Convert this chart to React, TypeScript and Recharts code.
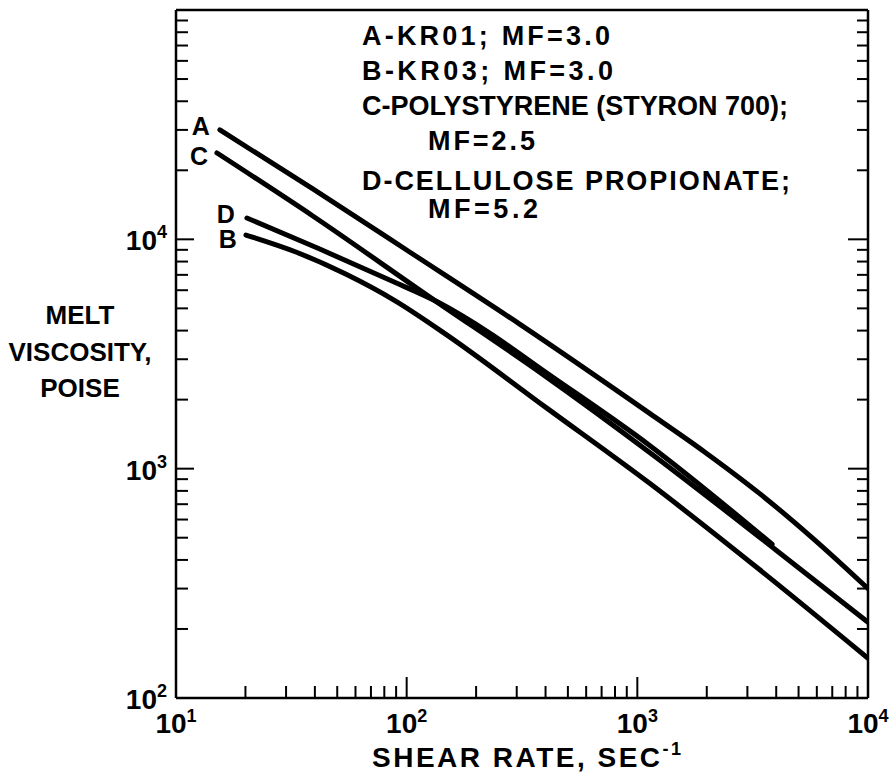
import React from 'react';
import { LineChart, Line, XAxis, YAxis, ReferenceLine } from 'recharts';

// shear rate (1/sec) and melt viscosity (poise)
const shearA = [15.5, 39.2, 103, 309, 1127, 1950, 3373, 5834, 10000];
const viscA = [30000, 16580, 8805, 4267, 1746, 1186, 782, 492, 300];

const shearB = [20.1, 33.1, 54.4, 89.6, 147.5, 408, 1127, 3373, 10000];
const viscB = [10440, 8805, 7058, 5381, 3863, 1827, 865, 364, 149];

const shearC = [15.05, 39.2, 126, 388, 1127, 4000, 10000];
const viscC = [23800, 12640, 5600, 2584, 1180, 441, 214];

const shearD = [20.3, 42, 84.4, 139, 229, 388, 1127, 3840];
const viscD = [12390, 9072, 6644, 5274, 3902, 2692, 1266, 468];

const xTicks = [
  10, 20, 30, 40, 50, 60, 70, 80, 90,
  100, 200, 300, 400, 500, 600, 700, 800, 900,
  1000, 2000, 3000, 4000, 5000, 6000, 7000, 8000, 9000, 10000,
];
const yTicks = [
  100, 200, 300, 400, 500, 600, 700, 800, 900,
  1000, 2000, 3000, 4000, 5000, 6000, 7000, 8000, 9000,
  10000, 20000, 30000, 40000, 50000, 60000, 70000, 80000, 90000, 100000,
];
// decades that carry a printed label
const yLabelled = [100, 1000, 10000];

const legendLines = [
  { text: 'A-KR01; MF=3.0', x: 362, y: 45, w: 248 },
  { text: 'B-KR03; MF=3.0', x: 362, y: 80, w: 251 },
  { text: 'C-POLYSTYRENE (STYRON 700);', x: 362, y: 115, w: 426 },
  { text: 'MF=2.5', x: 428, y: 150, w: 107 },
  { text: 'D-CELLULOSE PROPIONATE;', x: 362, y: 190, w: 428 },
  { text: 'MF=5.2', x: 428, y: 218, w: 110 },
];

const yTitle = ['MELT', 'VISCOSITY,', 'POISE'];

const FONT = '"Liberation Sans", Arial, sans-serif';
const INK = '#000';
const PLOT_W = 692;

const toPoints = (xs: number[], ys: number[]) => xs.map((x, i) => ({ x, y: ys[i] }));

const decade = (v: number) => Math.round(Math.log10(v));
const isDecade = (v: number) => Math.abs(Math.log10(v) - decade(v)) < 1e-6;

// ticks point into the plot; labels only at powers of ten
const XTick = (props: any) => {
  const { x, y, payload } = props;
  const major = isDecade(payload.value);
  return (
    <g>
      <line x1={x} x2={x} y1={y} y2={y - (major ? 21 : 12)} stroke={INK} strokeWidth={2} />
      {major && (
        <text x={x} y={y + 35} textAnchor="middle" fontFamily={FONT} fontWeight="bold" fontSize={28} fill={INK}>
          <tspan>10</tspan>
          <tspan dy={-11} fontSize={18}>{decade(payload.value)}</tspan>
        </text>
      )}
    </g>
  );
};

// left ticks plus the mirrored ticks on the right frame
const YTick = (props: any) => {
  const { x, y, payload } = props;
  const major = isDecade(payload.value);
  const right = x + PLOT_W;
  return (
    <g>
      <line x1={x} x2={x + (major ? 18 : 12)} y1={y} y2={y} stroke={INK} strokeWidth={2} />
      <line x1={right} x2={right - (major ? 20 : 11)} y1={y} y2={y} stroke={INK} strokeWidth={2} />
      {yLabelled.includes(payload.value) && (
        <text x={x - 9} y={y + 11} textAnchor="end" fontFamily={FONT} fontWeight="bold" fontSize={28} fill={INK}>
          <tspan>10</tspan>
          <tspan dy={-12} fontSize={18}>{decade(payload.value)}</tspan>
        </text>
      )}
    </g>
  );
};

const curveLabel = (name: string, dx: number, dy: number) => (p: any) =>
  p.index === 0 ? (
    <text x={p.x + dx} y={p.y + dy} textAnchor="end" fontFamily={FONT} fontWeight="bold" fontSize={25} fill={INK}>
      {name}
    </text>
  ) : null;

const curves = [
  { key: 'A', data: toPoints(shearA, viscA), dx: -10, dy: 5 },
  { key: 'C', data: toPoints(shearC, viscC), dx: -9, dy: 12 },
  { key: 'D', data: toPoints(shearD, viscD), dx: -12, dy: 5 },
  { key: 'B', data: toPoints(shearB, viscB), dx: -9, dy: 13 },
];

export default function App() {
  return (
    <div style={{ position: 'absolute', left: 0, top: 0, width: 893, height: 773, background: '#fff' }}>
      <LineChart width={893} height={773} margin={{ top: 10, right: 25, bottom: 0, left: 0 }}>
        <XAxis
          type="number"
          dataKey="x"
          scale="log"
          domain={[10, 10000]}
          ticks={xTicks}
          interval={0}
          allowDataOverflow
          height={75}
          tickSize={0}
          tickMargin={0}
          tickLine={false}
          axisLine={{ stroke: INK, strokeWidth: 2.5 }}
          tick={XTick}
        />
        <YAxis
          type="number"
          dataKey="y"
          scale="log"
          domain={[100, 100000]}
          ticks={yTicks}
          interval={0}
          allowDataOverflow
          width={176}
          tickSize={0}
          tickMargin={0}
          tickLine={false}
          axisLine={{ stroke: INK, strokeWidth: 2.5 }}
          tick={YTick}
        />
        <ReferenceLine y={100000} stroke={INK} strokeWidth={2.5} />
        <ReferenceLine x={10000} stroke={INK} strokeWidth={2.5} />
        {curves.map((c) => (
          <Line
            key={c.key}
            data={c.data}
            dataKey="y"
            type="monotone"
            stroke={INK}
            strokeWidth={5}
            strokeLinecap="round"
            dot={false}
            activeDot={false}
            isAnimationActive={false}
            label={curveLabel(c.key, c.dx, c.dy)}
          />
        ))}
      </LineChart>
      <svg
        width={893}
        height={773}
        style={{ position: 'absolute', left: 0, top: 0, pointerEvents: 'none' }}
        fontFamily={FONT}
        fontWeight="bold"
        fill={INK}
      >
        {legendLines.map((l) => (
          <text key={l.text} x={l.x} y={l.y} fontSize={27} textLength={l.w} lengthAdjust="spacing">
            {l.text}
          </text>
        ))}
        {yTitle.map((t, i) => (
          <text key={t} x={80} y={[324, 361, 397][i]} fontSize={26} textAnchor="middle">
            {t}
          </text>
        ))}
        <text x={372} y={767} fontSize={28} letterSpacing={2.5}>
          SHEAR RATE, SEC
          <tspan dy={-12} fontSize={18}>-1</tspan>
        </text>
      </svg>
    </div>
  );
}
